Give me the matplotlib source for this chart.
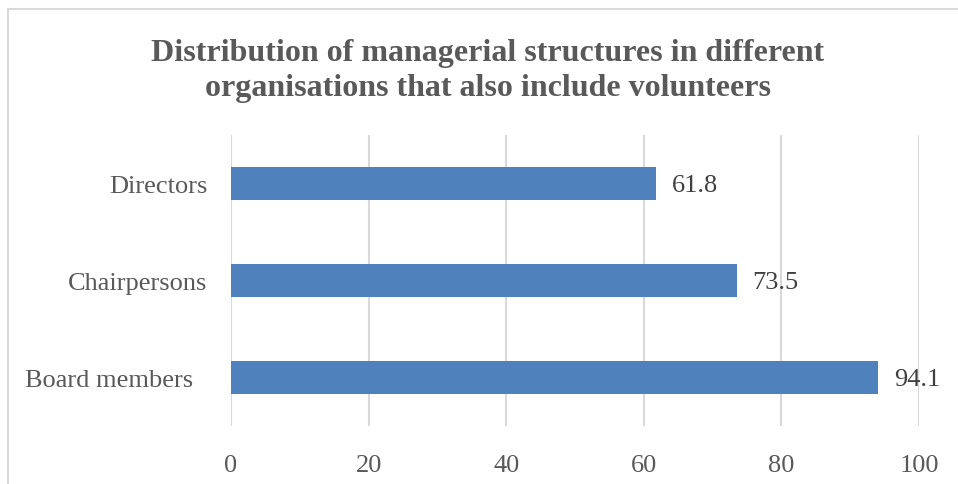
import matplotlib.pyplot as plt
from matplotlib.patches import Rectangle
from matplotlib.transforms import ScaledTranslation

categories = ["Board members", "Chairpersons", "Directors"]
values = [94.1, 73.5, 61.8]
xticks = [0, 20, 40, 60, 80, 100]

plt.rcParams['font.family'] = ['Liberation Serif', 'DejaVu Serif']

fig = plt.figure(figsize=(9.58, 4.85), dpi=100)
ax = fig.add_axes([0.2411, 0.1196, 0.7182, 0.6000])

ypos = range(len(categories))
bars = ax.barh(ypos, values, height=0.35, color='#4F81BD', zorder=3)
for b, v in zip(bars, values):
    ax.text(v + 2.3, b.get_y() + b.get_height() / 2 - 0.02, f"{v:.1f}",
            va='center', ha='left', fontsize=19, color='#404040')

ax.set_xlim(0, 100)
ax.set_ylim(-0.5, len(categories) - 0.5)
ax.set_xticks(xticks)
ax.set_yticks(list(ypos))
ax.set_yticklabels(categories)
ax.tick_params(axis='both', length=0, labelsize=19, labelcolor='#595959')
ax.tick_params(axis='x', pad=20)
ax.tick_params(axis='y', pad=17)
ax.grid(axis='x', color='#D9D9D9', linewidth=1.5, zorder=0)
for s in ax.spines.values():
    s.set_visible(False)

# the longest label sits a little further left
lab = ax.get_yticklabels()[0]
lab.set_transform(lab.get_transform() + ScaledTranslation(-0.14, 0, fig.dpi_scale_trans))

fig.text(0.509, 0.853, "Distribution of managerial structures in different\n"
         "organisations that also include volunteers",
         ha='center', va='center', fontsize=23, fontweight='bold',
         color='#595959', linespacing=1.28)

# chart frame, running off the right and bottom edges
fig.patches.append(Rectangle((8 / 958, -0.1), 1.2, 1.1 - 9.5 / 485,
                             transform=fig.transFigure, fill=False,
                             edgecolor='#D9D9D9', linewidth=1.5))

fig.savefig("out.png", dpi=100)
